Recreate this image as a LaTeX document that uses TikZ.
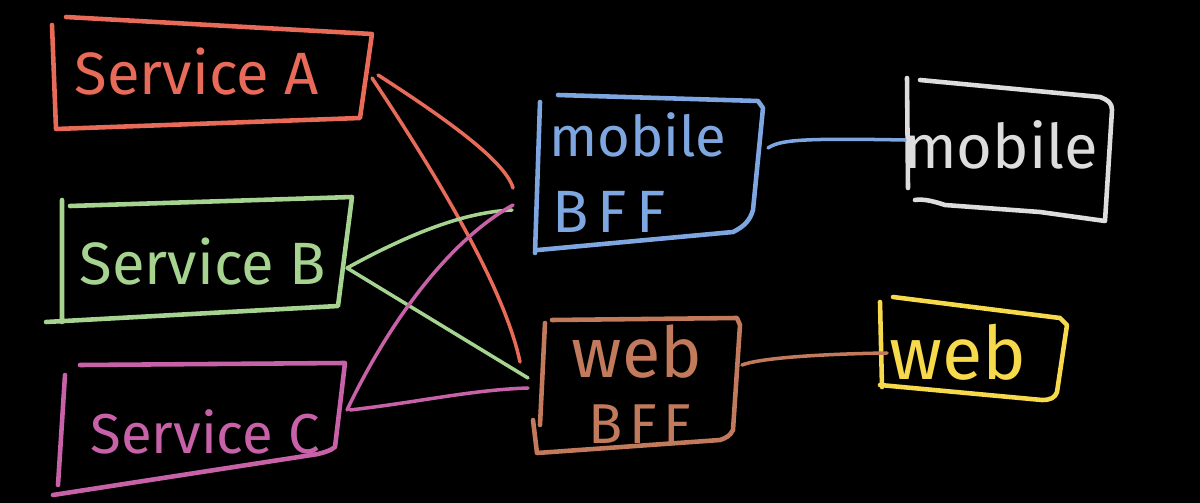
\documentclass[tikz,border=0pt]{standalone}
\usepackage{fontspec}
\setmainfont{Fira Sans}
\definecolor{cred}{HTML}{E86A58}
\definecolor{cgreen}{HTML}{A7D391}
\definecolor{cmag}{HTML}{C862A8}
\definecolor{cblue}{HTML}{7EA7E2}
\definecolor{cbrown}{HTML}{C27A5C}
\definecolor{cwhite}{HTML}{DDDDDD}
\definecolor{cyellow}{HTML}{F7D94C}
\begin{document}
\begin{tikzpicture}[x=0.02cm,y=-0.02cm,
  pen/.style={line width=2.6pt,line cap=round,line join=round},
  wire/.style={line width=2pt,line cap=round},
  lbl/.style={inner sep=0pt},
  fs/.style={font=\fontsize{#1}{#1}\selectfont}]
\fill[black] (0,0) rectangle (1200,503);
\useasboundingbox (0,0) rectangle (1200,503);
% boxes
\draw[pen,cred] (66,17) -- (372,34) -- (360,118) -- (56,129) -- (52,25);
\draw[pen,cgreen] (62,200) -- (62,322) (46,322) -- (338,306) -- (352,197) -- (70,206);
\draw[pen,cmag] (80,365) -- (345,363) -- (335,447) .. controls (330,451) and (325,452) .. (318,454) -- (53,495) (65,375) -- (58,485);
\draw[pen,cblue] (540,102) -- (535,253) (538,250) -- (733,232) .. controls (745,226) and (750,220) .. (753,210) -- (763,108) -- (758,101) -- (558,95);
\draw[pen,cwhite] (907,78) -- (908,188) (920,80) -- (1100,97) .. controls (1108,100) and (1112,103) .. (1112,110) -- (1105,221) -- (1040,212) -- (945,205) .. controls (930,200) and (922,199) .. (915,200);
\draw[pen,cbrown] (552,320) -- (737,318) -- (740,325) -- (733,430) .. controls (730,436) and (726,438) .. (720,440) -- (537,453) -- (533,420) (545,323) -- (540,425);
\draw[pen,cyellow] (880,302) -- (882,387) (880,385) -- (1042,400) .. controls (1050,400) and (1055,398) .. (1057,392) -- (1067,325) -- (1060,318) -- (893,297);
% labels
\node[lbl,fs=34,text=cred] (A) at (197,72) {Service A};
\node[lbl,fs=34,text=cgreen] (B) at (203,262) {Service B};
\node[lbl,fs=32,text=cmag] (C) at (205,432) {Service C};
\node[lbl,fs=32,text=cblue] (mbff) at (638,135) {mobile};
\node[lbl,fs=34,text=cblue] (mbff2) at (609,212) {\addfontfeature{LetterSpace=15}BFF};
\node[lbl,fs=40,text=cbrown] (wbff) at (637,352) {web};
\node[lbl,fs=32,text=cbrown] (wbff2) at (640,424) {\addfontfeature{LetterSpace=12}BFF};
\node[lbl,fs=35,text=cwhite] (mob) at (1001,145) {mobile};
\node[lbl,fs=42,text=cyellow] (web) at (958,352) {web};
% anchor points
\coordinate (aR1) at (378,75);
\coordinate (aR2) at (372,78);
\coordinate (bR) at (347,268);
\coordinate (cR1) at (347,410);
\coordinate (cR2) at (350,410);
\coordinate (mL1) at (513,188);
\coordinate (mL2) at (512,210);
\coordinate (mL3) at (513,205);
\coordinate (wL1) at (520,362);
\coordinate (wL2) at (528,378);
\coordinate (wL3) at (528,388);
\coordinate (mR) at (768,148);
\coordinate (moL) at (905,140);
\coordinate (wR) at (742,365);
\coordinate (weL) at (887,353);
% connectors
\draw[wire,cred] (aR1) .. controls (440,115) and (505,160) .. (mL1);
\draw[wire,cred] (aR2) .. controls (440,180) and (505,290) .. (wL1);
\draw[wire,cgreen] (bR) .. controls (420,228) and (470,212) .. (mL2);
\draw[wire,cgreen] (bR) -- (wL2);
\draw[wire,cmag] (cR1) .. controls (390,320) and (450,240) .. (mL3);
\draw[wire,cmag] (cR2) .. controls (420,402) and (470,390) .. (wL3);
\draw[wire,cblue] (mR) .. controls (780,140) and (800,138) .. (moL);
\draw[wire,cbrown] (wR) .. controls (760,358) and (820,354) .. (weL);
\end{tikzpicture}
\end{document}
